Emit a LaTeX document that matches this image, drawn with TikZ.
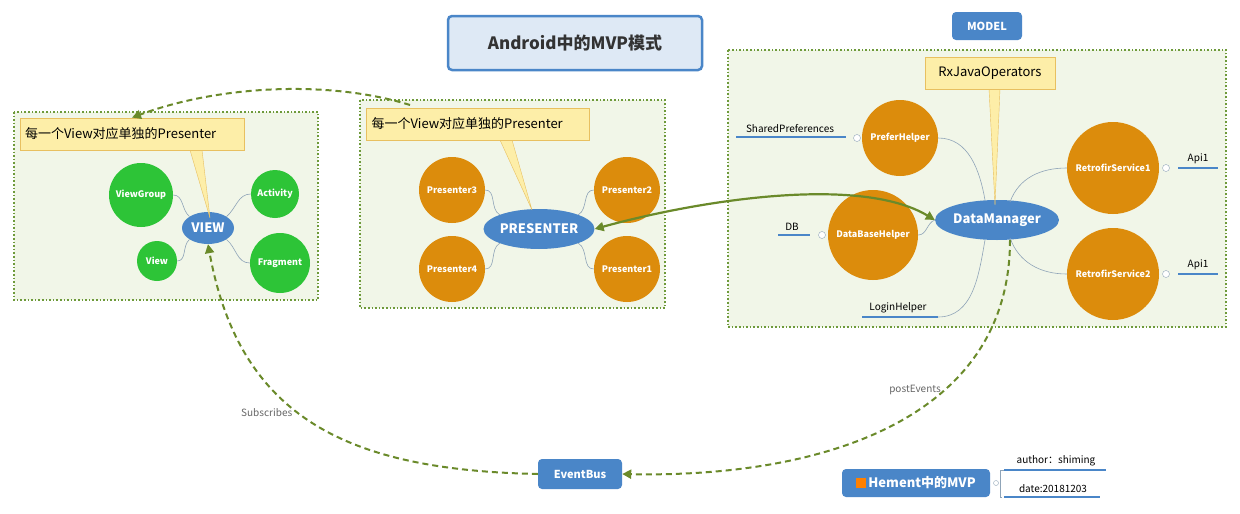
\documentclass[tikz,border=0pt]{standalone}
\usepackage{fontspec}
\setmainfont{Noto Sans CJK SC}
\usetikzlibrary{arrows.meta,shapes.geometric}
\definecolor{pblue}{HTML}{4A86C8}
\definecolor{pgreen}{HTML}{2DC437}
\definecolor{porange}{HTML}{DC8C0C}
\definecolor{panel}{HTML}{F1F6E8}
\definecolor{pborder}{HTML}{6E9A3A}
\definecolor{dgreen}{HTML}{6A8A2A}
\definecolor{cyel}{HTML}{FDEEA8}
\definecolor{cyelb}{HTML}{E8C060}
\definecolor{lnk}{HTML}{8FA4B8}
\begin{document}
\begin{tikzpicture}[x=1pt,y=-1pt,
 panelbox/.style={draw=pborder,fill=panel,line width=1.6pt,dotted},
 callout/.style={draw=cyelb,fill=cyel,line width=0.8pt,inner sep=0pt,font=\fontsize{13}{13}\selectfont},
 cen/.style={ellipse,fill=pblue,text=white,font=\bfseries\fontsize{13}{13}\selectfont,inner sep=0pt},
 gc/.style={circle,fill=pgreen,text=white,font=\bfseries\fontsize{9}{9}\selectfont,inner sep=0pt},
 oc/.style={circle,fill=porange,text=white,font=\bfseries\fontsize{9}{9}\selectfont,inner sep=0pt},
 lnkline/.style={draw=lnk,line width=0.6pt},
 leaf/.style={draw=pblue,line width=1.4pt},
 lt/.style={font=\fontsize{10}{10}\selectfont,inner sep=1pt},
 rel/.style={draw=dgreen,line width=2pt,dash pattern=on 6pt off 4pt,-{Triangle[length=9pt,width=9pt]}},
 tiny/.style={circle,draw=lnk,fill=white,inner sep=0pt,minimum size=7pt}]
\useasboundingbox (0,0) rectangle (1240,514);
\fill[white] (0,0) rectangle (1240,514);
% title
\node[draw=pblue,fill=pblue!18,line width=2.5pt,rounded corners=4pt,minimum width=254pt,minimum height=54pt,font=\bfseries\fontsize{17}{17}\selectfont,text=black!80] (title) at (575,43) {Android中的MVP模式};
\node[fill=pblue,rounded corners=4pt,minimum width=70pt,minimum height=28pt,text=white,font=\bfseries\fontsize{11}{11}\selectfont] (model) at (987,26) {MODEL};
% panels
\draw[panelbox] (14,112) rectangle (318,300);
\draw[panelbox] (360,100) rectangle (665,308);
\draw[panelbox] (728,50) rectangle (1226,327);
% VIEW
\node[cen,minimum width=52pt,minimum height=32pt] (view) at (208,228) {VIEW};
\node[gc,minimum size=64pt] (vg) at (141,195) {ViewGroup};
\node[gc,minimum size=48pt] (act) at (275,194) {Activity};
\node[gc,minimum size=40pt] (vw) at (157,261) {View};
\node[gc,minimum size=60pt] (frag) at (280,263) {Fragment};
\draw[lnkline] (view.north west) to[out=140,in=0] (vg.east);
\draw[lnkline] (view.north east) to[out=40,in=180] (act.west);
\draw[lnkline] (view.south west) to[out=220,in=0] (vw.east);
\draw[lnkline] (view.south east) to[out=-40,in=180] (frag.west);
\fill[cyel,draw=cyelb] (190,150) -- (210,218) -- (202,150) -- cycle;
\node[callout,minimum width=224pt,minimum height=32pt,text width=214pt,align=left] (c1) at (132,134) {每一个View对应单独的Presenter};
% PRESENTER
\node[cen,minimum width=104pt,minimum height=40pt] (pres) at (539,229) {PRESENTER};
\node[oc,minimum size=66pt] (p3) at (452,190) {Presenter3};
\node[oc,minimum size=66pt] (p2) at (627,190) {Presenter2};
\node[oc,minimum size=66pt] (p4) at (452,269) {Presenter4};
\node[oc,minimum size=66pt] (p1) at (627,269) {Presenter1};
\draw[lnkline] (pres.north west) to[out=150,in=0] (p3.east);
\draw[lnkline] (pres.north east) to[out=30,in=180] (p2.west);
\draw[lnkline] (pres.south west) to[out=210,in=0] (p4.east);
\draw[lnkline] (pres.south east) to[out=-30,in=180] (p1.west);
\fill[cyel,draw=cyelb] (500,140) -- (532,210) -- (512,140) -- cycle;
\node[callout,minimum width=223pt,minimum height=32pt,text width=213pt,align=left] (c2) at (478,124) {每一个View对应单独的Presenter};
% MODEL
\node[cen,minimum width=118pt,minimum height=40pt] (dm) at (997,220) {DataManager};
\node[oc,minimum size=76pt] (pref) at (900,138) {PreferHelper};
\node[oc,minimum size=90pt] (dbh) at (873,235) {DataBaseHelper};
\node[oc,minimum size=92pt] (rs1) at (1113,168) {RetrofirService1};
\node[oc,minimum size=92pt] (rs2) at (1113,274) {RetrofirService2};
\draw[lnkline] (pref.east) to[out=0,in=100] (985,200);
\draw[lnkline] (dbh.east) to[out=0,in=200] (dm.west);
\draw[lnkline] (1010,202) to[out=70,in=180] (rs1.west);
\draw[lnkline] (1010,238) to[out=-70,in=180] (rs2.west);
\coordinate (lh) at (938,317);
\draw[lnkline] (985,240) to[out=-100,in=0] (lh);
\draw[leaf] (862,317) -- (lh);
\node[lt,anchor=south] (lht) at (898,314) {LoginHelper};
\coordinate (sp) at (846,137);
\draw[leaf] (736,137) -- (sp);
\node[lt,anchor=south] (spt) at (790,134) {SharedPreferences};
\node[tiny] (t1) at (857,138) {};
\coordinate (db) at (810,235);
\draw[leaf] (778,235) -- (db);
\node[lt,anchor=south] (dbt) at (792,232) {DB};
\node[tiny] (t2) at (822,235) {};
\coordinate (a1) at (1178,168);
\draw[leaf] (a1) -- (1218,168);
\node[lt,anchor=south] (a1t) at (1198,165) {Api1};
\node[tiny] (t3) at (1166,168) {};
\coordinate (a2) at (1178,274);
\draw[leaf] (a2) -- (1218,274);
\node[lt,anchor=south] (a2t) at (1198,271) {Api1};
\node[tiny] (t4) at (1166,274) {};
\fill[cyel,draw=cyelb] (989,89) -- (995,205) -- (1000,89) -- cycle;
\node[callout,minimum width=130pt,minimum height=32pt] (c3) at (990,73) {RxJavaOperators};
% EventBus and Hement
\node[fill=pblue,rounded corners=4pt,minimum width=84pt,minimum height=30pt,text=white,font=\bfseries\fontsize{11}{11}\selectfont] (eb) at (580,474) {EventBus};
\node[fill=pblue,rounded corners=4pt,minimum width=148pt,minimum height=28pt,text=white,font=\bfseries\fontsize{13}{13}\selectfont] (hm) at (916,483) {\textcolor{orange}{\rule{10pt}{10pt}}\,Hement中的MVP};
\node[tiny,minimum size=5pt] (t5) at (996,483) {};
\draw[lnkline] (1002,497) -- (1000,497) -- (1000,470) -- (1004,470);
\draw[leaf] (1004,470) -- (1106,470);
\draw[leaf] (1004,497) -- (1100,497);
\node[lt,anchor=south] (au) at (1056,467) {author：shiming};
\node[lt,anchor=south] (dt) at (1053,494) {date:20181203};
% relations
\draw[rel] (410,105) .. controls (330,80) and (220,85) .. (c1.north);
\draw[draw=dgreen,line width=2.2pt,{Triangle[length=9pt,width=9pt]}-{Triangle[length=9pt,width=9pt]}] (pres.east) .. controls (700,200) and (860,175) .. (dm.west);
\draw[rel] (1010,240) .. controls (1010,420) and (820,478) .. (eb.east);
\node[font=\fontsize{10}{10}\selectfont,text=black!60] (pe) at (915,390) {postEvents};
\draw[rel] (eb.west) .. controls (350,470) and (240,420) .. (view.south) node[pos=0.55,left=2pt,font=\fontsize{10}{10}\selectfont,text=black!60] {Subscribes};
\end{tikzpicture}
\end{document}
